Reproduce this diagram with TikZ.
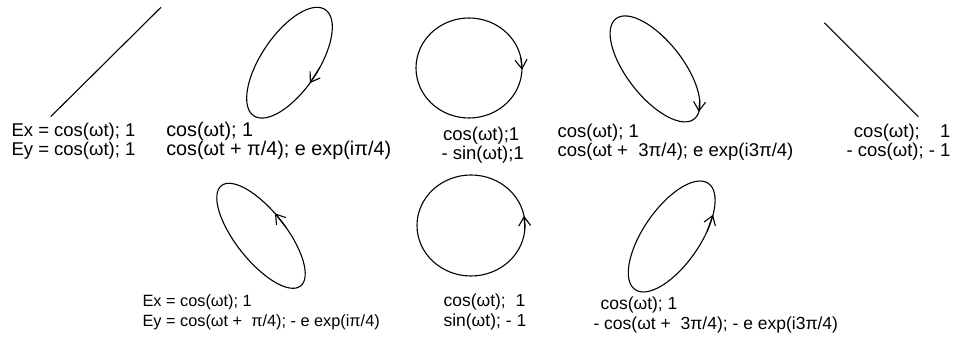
\documentclass[tikz,border=0pt]{standalone}
\usepackage{fontspec}
\setmainfont{Liberation Sans}
\usetikzlibrary{arrows.meta}

\begin{document}
\begin{tikzpicture}[x=1pt,y=1pt,line width=1.1pt,
  tip/.style={-{Straight Barb[length=9pt,width=12pt]}},
  toplbl/.style={font=\fontsize{18.5}{19}\selectfont,inner sep=0pt,align=left,anchor=base west},
  lowlbl/.style={font=\fontsize{17.5}{20}\selectfont,inner sep=0pt,align=left,anchor=base west}]
  \useasboundingbox (0,0) rectangle (956,337);
  % top row
  \draw (50.7,220.3) -- (161,329.7);
  \begin{scope}[shift={(289.5,274.3)},rotate=56]
    \draw (0,0) ellipse [x radius=64,y radius=28.4];
    \draw[tip] ({64*cos(-78)},{28.4*sin(-78)}) -- ({64*cos(-95)},{28.4*sin(-95)});
  \end{scope}
  \begin{scope}[shift={(469,269)}]
    \draw (0,0) ellipse [x radius=53,y radius=50];
    \draw[tip] ({53*cos(12)},{50*sin(12)}) -- ({53*cos(-2)},{50*sin(-2)});
  \end{scope}
  \begin{scope}[shift={(655,268.1)},rotate=-52]
    \draw (0,0) ellipse [x radius=63.6,y radius=27.9];
    \draw[tip] ({63.6*cos(35)},{27.9*sin(35)}) -- ({63.6*cos(17)},{27.9*sin(17)});
  \end{scope}
  \draw (824.3,314.3) -- (918.3,220.3);
  \node[toplbl] (linA) at (11,181.5) {Ex = cos(ωt); 1\\Ey = cos(ωt); 1};
  \node[toplbl,font=\fontsize{19.8}{19}\selectfont] (ellA) at (165.7,181.5) {cos(ωt); 1\\cos(ωt + π/4); e exp(iπ/4)};
  \node[toplbl] (cirA) at (441,177) {\hspace*{1.5pt}cos(ωt);1\\- sin(ωt);1};
  \node[toplbl] (ellB) at (557,180) {cos(ωt); 1\\cos(ωt +\ \ 3π/4); e exp(i3π/4)};
  \node[toplbl,align=right,anchor=base east] (linB) at (951,180) {cos(ωt);\hspace{1.1em}1\\- cos(ωt); - 1};
  % bottom row
  \begin{scope}[shift={(261,101.2)},rotate=-51.7]
    \draw (0,0) ellipse [x radius=63.9,y radius=25.1];
    \draw[tip] ({63.9*cos(82)},{25.1*sin(82)}) -- ({63.9*cos(98)},{25.1*sin(98)});
  \end{scope}
  \begin{scope}[shift={(471,111.5)}]
    \draw (0,0) ellipse [x radius=54,y radius=50.5];
    \draw[tip] ({54*cos(-4)},{50.5*sin(-4)}) -- ({54*cos(11)},{50.5*sin(11)});
  \end{scope}
  \begin{scope}[shift={(671.7,100.5)},rotate=55.4]
    \draw (0,0) ellipse [x radius=64.5,y radius=28.3];
    \draw[tip] ({64.5*cos(-68)},{28.3*sin(-68)}) -- ({64.5*cos(-50)},{28.3*sin(-50)});
  \end{scope}
  \node[lowlbl,font=\fontsize{16.3}{20}\selectfont] (ellC) at (142,10.3) {Ex = cos(ωt); 1\\Ey = cos(ωt +\ \ π/4); - e exp(iπ/4)};
  \node[lowlbl] (cirB) at (443,10.3) {cos(ωt);\ \ 1\\sin(ωt); - 1};
  \node[lowlbl] (ellD) at (593,7) {\hspace*{7pt}cos(ωt); 1\\- cos(ωt +\ \ 3π/4); - e exp(i3π/4)};
\end{tikzpicture}
\end{document}
